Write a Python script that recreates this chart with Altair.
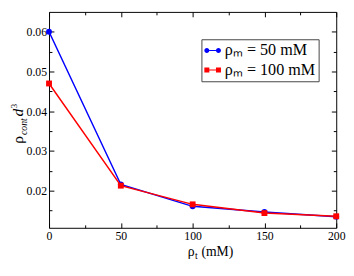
import altair as alt
import pandas as pd

# ---- values ----
rho_t_mM = [0, 50, 100, 150, 200]
rho_cont_rho_m_50 = [0.0600, 0.0216, 0.0161, 0.0147, 0.0135]
rho_cont_rho_m_100 = [0.0470, 0.0213, 0.0166, 0.0144, 0.0136]
series_labels = ["ρₘ = 50 mM", "ρₘ = 100 mM"]
series_colors = ["#0000ff", "#ff0000"]
series_markers = ["circle", "square"]

x_domain = [0, 200]
y_domain = [0.0107, 0.065]
x_major_ticks = [0, 50, 100, 150, 200]
x_minor_ticks = [25, 75, 125, 175]
y_major_ticks = [0.02, 0.03, 0.04, 0.05, 0.06]
y_minor_ticks = [0.015, 0.025, 0.035, 0.045, 0.055]

W, H = 294, 221
FONT = "Liberation Serif, Times New Roman, Times, serif"

records = []
for label, values in zip(series_labels, [rho_cont_rho_m_50, rho_cont_rho_m_100]):
    for t, v in zip(rho_t_mM, values):
        records.append({"rho_t": t, "rho_cont": v, "series": label})
df = pd.DataFrame(records)

x_scale = alt.Scale(domain=x_domain, nice=False, zero=False)
y_scale = alt.Scale(domain=y_domain, nice=False, zero=False)


def enc_x(axis):
    return alt.X("rho_t:Q", scale=x_scale, axis=axis)


def enc_y(axis):
    return alt.Y("rho_cont:Q", scale=y_scale, axis=axis)


def tick_axis(orient, offset, values, size):
    return alt.Axis(orient=orient, offset=offset, values=values, labels=False,
                    domain=False, grid=False, ticks=True, tickSize=size,
                    tickColor="black", tickWidth=1, title=None)


layers = []

# axis carriers (invisible points): labels + inward ticks on all four sides
x_label_axis = alt.Axis(orient="bottom", values=x_major_ticks, ticks=False, tickSize=0,
                        domain=False, grid=False, labelFont=FONT, labelFontSize=12,
                        labelColor="black", labelPadding=3, labelFlush=False,
                        labelOverlap=False, title=None)
y_label_axis = alt.Axis(orient="left", values=y_major_ticks, format=".2f", ticks=False,
                        tickSize=0, domain=False, grid=False, labelFont=FONT,
                        labelFontSize=12, labelColor="black", labelPadding=2.5,
                        labelOverlap=False, title=None)
axis_pairs = [
    (x_label_axis, y_label_axis),
    (tick_axis("top", -H, x_major_ticks, 5), tick_axis("right", -W, y_major_ticks, 5)),
    (tick_axis("bottom", -H, x_major_ticks, 5), tick_axis("left", -W, y_major_ticks, 5)),
    (tick_axis("top", -H, x_minor_ticks, 3), tick_axis("right", -W, y_minor_ticks, 3)),
    (tick_axis("bottom", -H, x_minor_ticks, 3), tick_axis("left", -W, y_minor_ticks, 3)),
]
for ax_x, ax_y in axis_pairs:
    layers.append(alt.Chart(df).mark_point(opacity=0).encode(x=enc_x(ax_x), y=enc_y(ax_y)))

# legend carrier (invisible points, symbols drawn as line-with-markers)
legend_paths = [
    "M-0.4,-0.07H0.4V0.07H-0.4Z M-1,0A0.3,0.3,0,1,1,-0.4,0A0.3,0.3,0,1,1,-1,0Z "
    "M0.4,0A0.3,0.3,0,1,1,1,0A0.3,0.3,0,1,1,0.4,0Z",
    "M-0.4,-0.07H0.4V0.07H-0.4Z M-1,-0.3H-0.4V0.3H-1Z M0.4,-0.3H1V0.3H0.4Z",
]
legend = alt.Legend(title=None, orient="none", legendX=156, legendY=28,
                    fillColor="white", strokeColor="#444", padding=3, rowPadding=3,
                    labelOffset=4, symbolSize=289, symbolStrokeWidth=0, symbolOpacity=1,
                    labelFont=FONT, labelFontSize=16.5, labelColor="black", labelLimit=300)
layers.append(
    alt.Chart(df).mark_point(filled=True, opacity=0).encode(
        x=enc_x(None), y=enc_y(None),
        color=alt.Color("series:N", scale=alt.Scale(domain=series_labels, range=series_colors),
                        legend=legend),
        shape=alt.Shape("series:N", scale=alt.Scale(domain=series_labels, range=legend_paths),
                        legend=legend),
    )
)

# data series (blue first, red drawn on top)
for label, color, marker in zip(series_labels, series_colors, series_markers):
    sub = alt.Chart(df).transform_filter(alt.datum.series == label)
    layers.append(sub.mark_line(color=color, strokeWidth=1.5).encode(x=enc_x(None), y=enc_y(None)))
    layers.append(sub.mark_point(shape=marker, filled=True, color=color, size=36, opacity=1)
                  .encode(x=enc_x(None), y=enc_y(None)))


def text_piece(txt, x, y, size, angle=0, italic=False):
    return alt.Chart(alt.Data(values=[{"t": txt}])).mark_text(
        angle=angle, align="left", baseline="alphabetic", font=FONT, fontSize=size,
        fontStyle="italic" if italic else "normal", color="black"
    ).encode(text="t:N", x=alt.value(x), y=alt.value(y))


# y title: ρ_cont d^3 (rotated)
layers.append(text_piece("ρ", -27, 135, 16, angle=270))
layers.append(text_piece("cont", -22.5, 126, 10, angle=270, italic=True))
layers.append(text_piece("d", -27, 107, 16, angle=270, italic=True))
layers.append(text_piece("3", -33, 98.5, 9, angle=270))

# x title: ρ_t (mM)
layers.append(text_piece("ρ", 142, 250, 14))
layers.append(text_piece("t", 149.5, 253, 10))
layers.append(text_piece("(mM)", 156, 250, 14))

chart = alt.layer(*layers).resolve_axis(x="independent", y="independent").properties(
    width=W, height=H,
    padding={"left": 42, "top": 1, "right": 10, "bottom": 32},
    autosize=alt.AutoSizeParams(type="none"),
    background="white",
).configure_view(stroke="black", strokeWidth=1)

chart.save("out.html", embed_options={"renderer": "svg", "actions": False})
